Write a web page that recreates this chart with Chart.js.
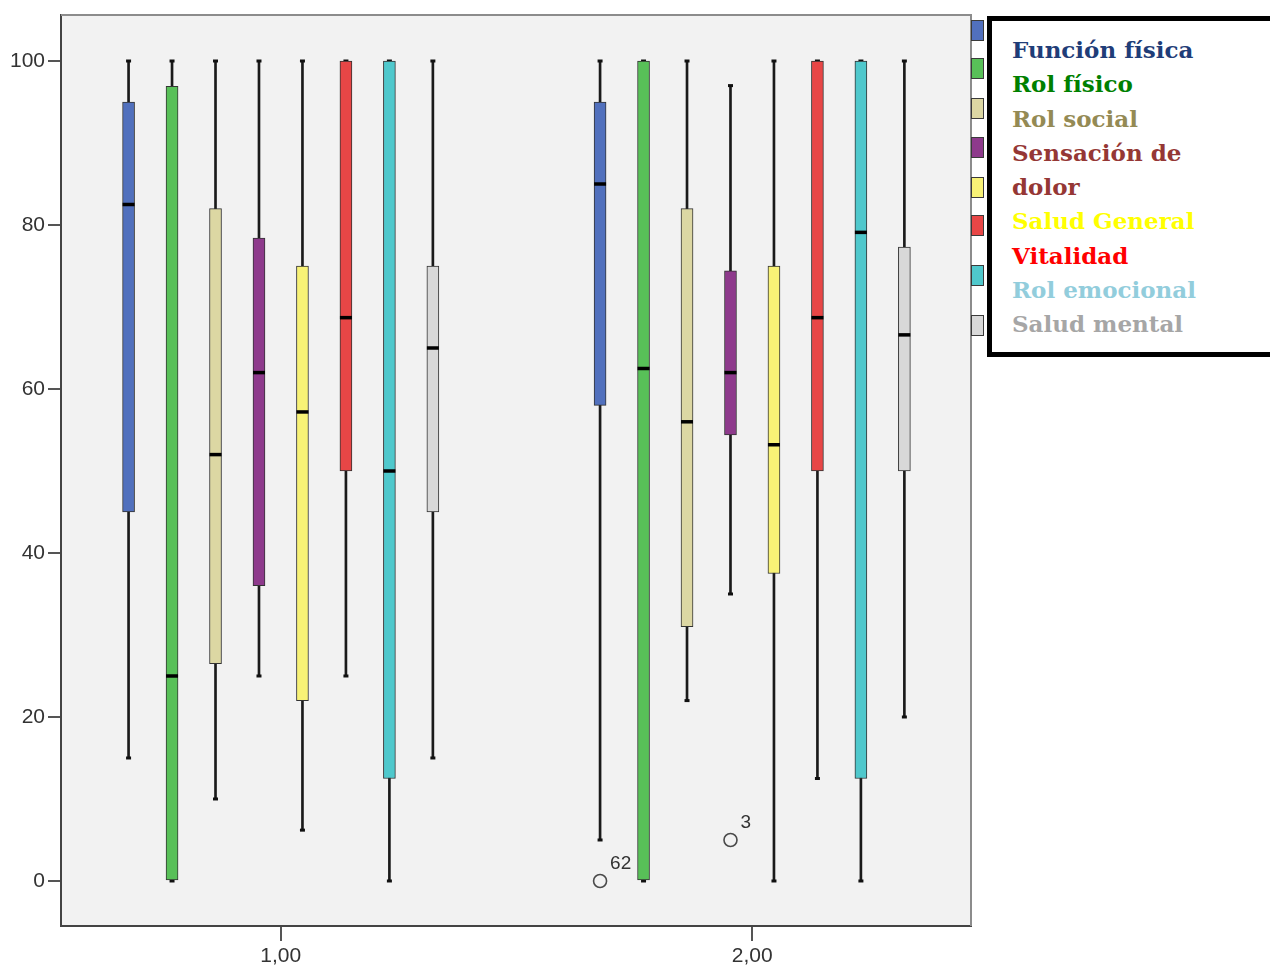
<!DOCTYPE html>
<html>
<head>
<meta charset="utf-8">
<script src="https://cdn.jsdelivr.net/npm/chart.js@4.4.1/dist/chart.umd.min.js"></script>
<style>
html,body{margin:0;padding:0;background:#fff;width:1270px;height:971px;overflow:hidden;}
#wrap{position:relative;width:1270px;height:971px;overflow:hidden;}
#c{position:absolute;left:0;top:0;}
.sw{position:absolute;left:971px;width:11px;height:19px;border:1px solid #3a3a3a;}
#legend{position:absolute;left:987px;top:16px;width:330px;height:319px;border:5px solid #000;background:#fff;
  font-family:"DejaVu Serif","Liberation Serif",serif;font-weight:bold;font-size:23px;line-height:34.3px;
  padding:12px 0 0 20px;box-sizing:content-box;white-space:nowrap;}
#legend div{height:34.3px;}
</style>
</head>
<body>
<div id="wrap">
<canvas id="c" width="1270" height="971"></canvas>
<div id="swatches"></div>
<div id="legend"></div>
</div>
<script>
// ---- data ----
const groupLabels = ['1,00', '2,00'];
const groupValues = [1, 2];
const seriesNames = ['Función física', 'Rol físico', 'Rol social', 'Sensación de dolor',
                     'Salud General', 'Vitalidad', 'Rol emocional', 'Salud mental'];
const legendLines = [['Función física'], ['Rol físico'], ['Rol social'], ['Sensación de', 'dolor'],
                     ['Salud General'], ['Vitalidad'], ['Rol emocional'], ['Salud mental']];
const boxColors = ['#5170bd', '#58c058', '#dcd7a3', '#8e3a8c', '#f8f276', '#e84646', '#4fc8cc', '#d8d8d8'];
const legendTextColors = ['#1f3d78', '#008000', '#948a54', '#953735', '#ffff00', '#ff0000', '#92cddc', '#a6a6a6'];

// group 1,00
const lowG1  = [15, 0, 10, 25, 6.2, 25, 0, 15];
const q1G1   = [45, 0, 26.5, 36, 22, 50, 12.5, 45];
const medG1  = [82.5, 25, 52, 62, 57.2, 68.7, 50, 65];
const q3G1   = [95, 96.9, 82, 78.4, 75, 100, 100, 75];
const highG1 = [100, 100, 100, 100, 100, 100, 100, 100];
// group 2,00
const lowG2  = [5, 0, 22, 35, 0, 12.5, 0, 20];
const q1G2   = [58, 0, 31, 54.4, 37.5, 50, 12.5, 50];
const medG2  = [85, 62.5, 56, 62, 53.2, 68.7, 79.1, 66.6];
const q3G2   = [95, 100, 82, 74.4, 75, 100, 100, 77.3];
const highG2 = [100, 100, 100, 97, 100, 100, 100, 100];

// outliers
const outlierSeries = [0, 3];
const outlierGroup  = [1, 1];
const outlierValues = [0, 5];
const outlierIds    = ['62', '3'];

const yTicks = [0, 20, 40, 60, 80, 100];

// ---- build ----
const LOW = [lowG1, lowG2], Q1 = [q1G1, q1G2], MED = [medG1, medG2], Q3 = [q3G1, q3G2], HIGH = [highG1, highG2];
const SPACING = 0.0922;
const xPos = (g, s) => groupValues[g] + (s - (seriesNames.length - 1) / 2) * SPACING;

const datasets = [];
seriesNames.forEach((name, s) => {
  const pts = fn => groupValues.map((_, g) => ({x: xPos(g, s), y: fn(g)}));
  datasets.push({type: 'bar', label: name, data: pts(g => [Q1[g][s], Q3[g][s]]),
    backgroundColor: boxColors[s], borderColor: '#333', borderWidth: 1, borderSkipped: false,
    barThickness: 12, maxBarThickness: 12, barPercentage: 1, categoryPercentage: 1, grouped: false, order: 1});
  datasets.push({type: 'bar', label: name + ' bigotes', data: pts(g => [LOW[g][s], HIGH[g][s]]),
    backgroundColor: '#1a1a1a', borderWidth: 0,
    barThickness: 2, maxBarThickness: 2, barPercentage: 1, categoryPercentage: 1, grouped: false, order: 3});
  datasets.push({type: 'scatter', label: name + ' extremos',
    data: pts(g => LOW[g][s]).concat(pts(g => HIGH[g][s])),
    pointStyle: 'line', radius: 2.5, borderWidth: 3, borderColor: '#111', backgroundColor: '#111', order: 2});
  datasets.push({type: 'scatter', label: name + ' mediana', data: pts(g => MED[g][s]),
    pointStyle: 'line', radius: 6, borderWidth: 3.5, borderColor: '#000', backgroundColor: '#000', order: 0});
});
const outlierIndex = datasets.length;
datasets.push({type: 'scatter', label: 'atípicos',
  data: outlierValues.map((v, i) => ({x: xPos(outlierGroup[i], outlierSeries[i]), y: v})),
  pointStyle: 'circle', radius: 6.5, borderWidth: 1.6, borderColor: '#4a4a4a', backgroundColor: 'rgba(0,0,0,0)', order: 0});

const frame = {
  id: 'frame',
  beforeDraw(chart) {
    const {ctx, chartArea: a} = chart;
    ctx.save();
    ctx.fillStyle = '#f2f2f2';
    ctx.fillRect(a.left, a.top, a.right - a.left, a.bottom - a.top);
    ctx.restore();
  },
  afterDraw(chart) {
    const {ctx, chartArea: a} = chart;
    ctx.save();
    ctx.strokeStyle = '#8c8c8c';
    ctx.lineWidth = 2;
    ctx.beginPath();
    ctx.moveTo(a.left, a.top);
    ctx.lineTo(a.right, a.top);
    ctx.lineTo(a.right, a.bottom);
    ctx.stroke();
    // outlier case labels
    const meta = chart.getDatasetMeta(outlierIndex);
    ctx.fillStyle = '#333';
    ctx.font = '19px "Liberation Sans", Arial, sans-serif';
    ctx.textAlign = 'left';
    ctx.textBaseline = 'alphabetic';
    meta.data.forEach((p, i) => ctx.fillText(outlierIds[i], p.x + 10, p.y - 12));
    ctx.restore();
  }
};

const tickFont = {family: '"Liberation Sans", Arial, sans-serif', size: 21};
new Chart(document.getElementById('c'), {
  type: 'bar',
  data: {datasets},
  options: {
    responsive: false, animation: false, devicePixelRatio: 1,
    layout: {padding: {top: 15, right: 299, left: 0, bottom: 0}},
    plugins: {legend: {display: false}, tooltip: {enabled: false}},
    scales: {
      x: {
        type: 'linear', min: 0.534, max: 2.464, offset: false,
        afterBuildTicks: s => { s.ticks = groupValues.map(v => ({value: v})); },
        afterFit: s => { s.height = 45; s.paddingLeft = 0; s.paddingRight = 0; },
        ticks: {callback: v => { const i = groupValues.indexOf(v); return i >= 0 ? groupLabels[i] : ''; },
                color: '#333', font: tickFont, padding: 3, maxRotation: 0, autoSkip: false},
        grid: {drawOnChartArea: false, drawTicks: true, tickLength: 15, color: '#555', lineWidth: 2, offset: false},
        border: {display: true, color: '#444', width: 2}
      },
      y: {
        type: 'linear', min: -5.49, max: 105.61,
        afterBuildTicks: s => { s.ticks = yTicks.map(v => ({value: v})); },
        afterFit: s => { s.width = 61; s.paddingTop = 0; s.paddingBottom = 0; },
        ticks: {callback: v => String(v), color: '#333', font: tickFont, padding: 3},
        grid: {drawOnChartArea: false, drawTicks: true, tickLength: 13, color: '#555', lineWidth: 2},
        border: {display: true, color: '#444', width: 2}
      }
    }
  },
  plugins: [frame]
});

// ---- legend ----
const swatchTops = [20, 58, 98, 137, 177, 215, 265, 315];
const swHost = document.getElementById('swatches');
boxColors.forEach((c, i) => {
  const d = document.createElement('div');
  d.className = 'sw'; d.style.top = swatchTops[i] + 'px'; d.style.background = c;
  swHost.appendChild(d);
});
const lg = document.getElementById('legend');
legendLines.forEach((lines, i) => {
  lines.forEach(t => {
    const d = document.createElement('div');
    d.textContent = t; d.style.color = legendTextColors[i];
    lg.appendChild(d);
  });
});
</script>
</body>
</html>
